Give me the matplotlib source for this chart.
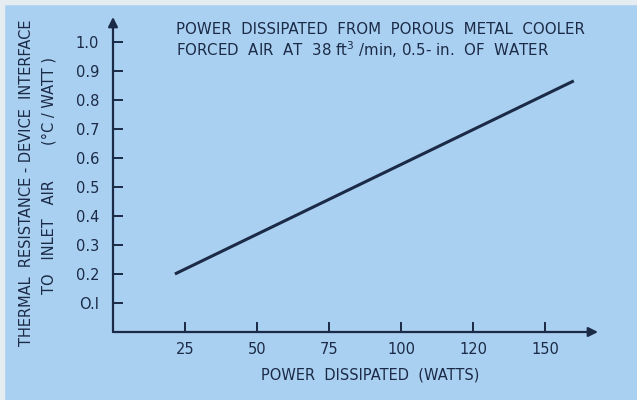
import matplotlib.pyplot as plt
from matplotlib.patches import Rectangle

# Данные
power_w = [21.5, 160.0]
resistance = [0.200, 0.866]

x_ticks = [25, 50, 75, 100, 125, 150]
x_tick_labels = ['25', '50', '75', '100', '120', '150']
y_ticks = [0.1, 0.2, 0.3, 0.4, 0.5, 0.6, 0.7, 0.8, 0.9, 1.0]
y_tick_labels = ['O.I', '0.2', '0.3', '0.4', '0.5', '0.6', '0.7', '0.8', '0.9', '1.0']

bg = '#aad0f1'
ink = '#1b2a46'

plt.rcParams['font.family'] = ['DejaVu Sans']

W, H = 637, 400
fig = plt.figure(figsize=(W / 100, H / 100), dpi=100)
fig.patch.set_facecolor(bg)

# светлая кромка сверху и слева
fig.patches.append(Rectangle((0, 1 - 4 / H), 1, 4 / H, transform=fig.transFigure,
                             color='#e6edf2', zorder=0))
fig.patches.append(Rectangle((0, 0), 4 / W, 1, transform=fig.transFigure,
                             color='#e6edf2', zorder=0))

x0, y0, x1, y1 = 113, 332, 598, 17
ax = fig.add_axes([x0 / W, 1 - y0 / H, (x1 - x0) / W, (y0 - y1) / H])
ax.set_facecolor('none')
ax.set_xlim(0, (x1 - x0) / 72 * 25)
ax.set_ylim(0, (y0 - y1) / 290)

ax.plot(power_w, resistance, color=ink, linewidth=2.2, solid_capstyle='butt')

for s in ax.spines.values():
    s.set_visible(False)

# оси со стрелками
ax.annotate('', xy=(1, 0), xytext=(0, 0), xycoords='axes fraction',
            arrowprops=dict(arrowstyle='-|>', color=ink, lw=1.6,
                            mutation_scale=14, shrinkA=0, shrinkB=0))
ax.annotate('', xy=(0, 1), xytext=(0, 0), xycoords='axes fraction',
            arrowprops=dict(arrowstyle='-|>', color=ink, lw=1.6,
                            mutation_scale=14, shrinkA=0, shrinkB=0))

ax.set_xticks(x_ticks)
ax.set_xticklabels(x_tick_labels)
ax.set_yticks(y_ticks)
ax.set_yticklabels(y_tick_labels)
ax.tick_params(axis='both', direction='in', length=7, width=1.4, color=ink,
               labelcolor=ink, labelsize=10.5)
ax.tick_params(axis='x', pad=7)
ax.tick_params(axis='y', pad=10)

fig.text(370 / W, 1 - 375 / H, 'POWER  DISSIPATED  (WATTS)', color=ink,
         fontsize=10.5, ha='center', va='center')

fig.text(176 / W, 1 - 30 / H, 'POWER  DISSIPATED  FROM  POROUS  METAL  COOLER',
         color=ink, fontsize=10.8, va='center', ha='left')
fig.text(176 / W, 1 - 50 / H,
         'FORCED  AIR  AT  38 ft$^3$ /min, 0.5- in.  OF  WATER',
         color=ink, fontsize=10.8, va='center', ha='left')

fig.text(27 / W, 1 - 183 / H, 'THERMAL  RESISTANCE - DEVICE  INTERFACE',
         color=ink, fontsize=10.5, rotation=90, ha='center', va='center')
fig.text(49 / W, 1 - 237 / H, 'TO   INLET   AIR',
         color=ink, fontsize=10.5, rotation=90, ha='center', va='center')
fig.text(49 / W, 1 - 101 / H, '(°C / WATT )',
         color=ink, fontsize=10.5, rotation=90, ha='center', va='center')

fig.savefig('out.png', dpi=100, facecolor=fig.get_facecolor())
